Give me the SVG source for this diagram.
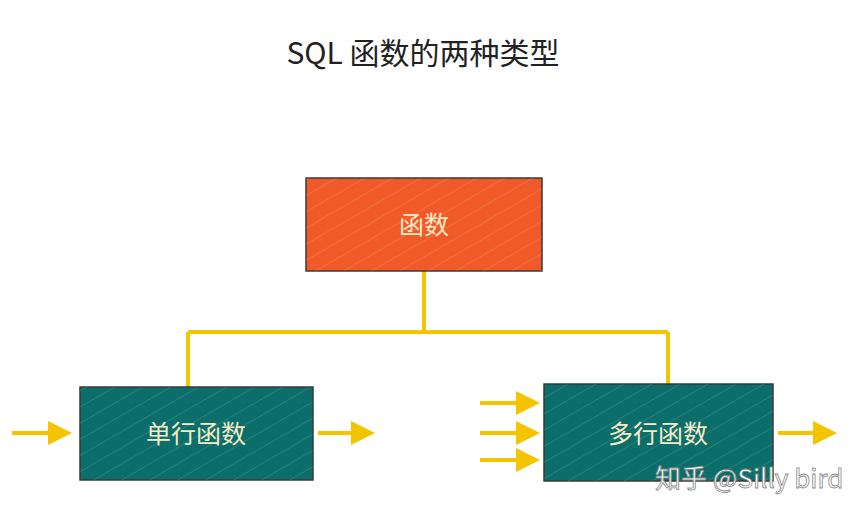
<svg xmlns="http://www.w3.org/2000/svg" width="868" height="515" viewBox="0 0 868 515">
<style>
.t{font-family:"Noto Sans CJK SC","Liberation Sans",sans-serif}
.lbl{font-size:25px;fill:#F7EBC6;text-anchor:middle}
.box{stroke:#3a3a3a;stroke-width:1.5}
.c{stroke:#F5C400;stroke-width:4;fill:none}
.a{stroke:#F5C400;stroke-width:4;fill:none;marker-end:url(#ah)}
</style>
<defs>
<marker id="ah" markerWidth="6" markerHeight="6" refX="5" refY="3" orient="auto" markerUnits="strokeWidth">
<path d="M0,0 L6,3 L0,6 Z" fill="#F5C400"/>
</marker>
<pattern id="hatch" width="14" height="14" patternUnits="userSpaceOnUse" patternTransform="rotate(-30)">
<line x1="0" y1="0" x2="14" y2="0" stroke="#ffffff" stroke-opacity="0.12" stroke-width="2"/>
</pattern>
</defs>
<rect width="868" height="515" fill="#fff"/>
<text class="t" x="423" y="64" font-size="30" text-anchor="middle" fill="#222">SQL 函数的两种类型</text>
<g id="connectors">
<path class="c" d="M424,271 V332 M188,332 H668 M188,332 V387 M668,332 V384"/>
<line class="a" x1="12" y1="433" x2="68" y2="433"/>
<line class="a" x1="318" y1="433" x2="371" y2="433"/>
<line class="a" x1="480" y1="403" x2="536" y2="403"/>
<line class="a" x1="480" y1="433" x2="536" y2="433"/>
<line class="a" x1="480" y1="460" x2="536" y2="460"/>
<line class="a" x1="778" y1="433" x2="833" y2="433"/>
</g>
<g id="func">
<rect class="box" x="306" y="178" width="236" height="93" fill="#F05A28"/>
<rect x="306" y="178" width="236" height="93" fill="url(#hatch)"/>
<text class="t lbl" x="424" y="234">函数</text>
</g>
<g id="single">
<rect class="box" x="80" y="387" width="233" height="93" fill="#0B6E6A"/>
<rect x="80" y="387" width="233" height="93" fill="url(#hatch)"/>
<text class="t lbl" x="196" y="443">单行函数</text>
</g>
<g id="multi">
<rect class="box" x="544" y="384" width="229" height="97" fill="#0B6E6A"/>
<rect x="544" y="384" width="229" height="97" fill="url(#hatch)"/>
<text class="t lbl" x="658" y="443">多行函数</text>
</g>
<text class="t" x="655" y="488" font-size="26" fill="#fff" stroke="#888" stroke-width="0.8">知乎 @Silly bird</text>
</svg>
